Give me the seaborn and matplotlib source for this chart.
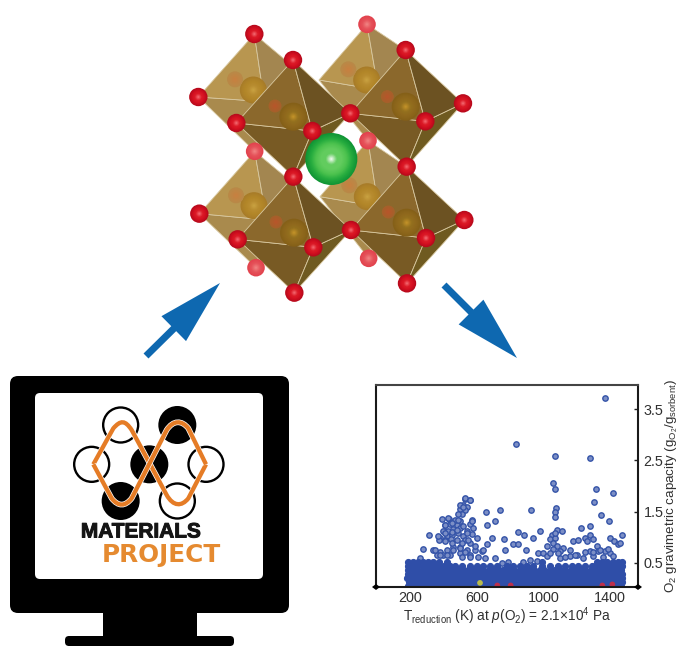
import matplotlib
matplotlib.use("Agg")
import matplotlib.pyplot as plt
from matplotlib.patches import Circle, Polygon, FancyArrow, FancyBboxPatch, PathPatch, Rectangle
from matplotlib.path import Path
import matplotlib.patheffects as pe
import pandas as pd
import seaborn as sns

# ---------- scatter data ----------
outlier_x = [1370, 834, 1068, 1278, 1058, 1068, 1314, 1416, 1306, 1078, 1068, 1072, 1344, 1394, 740, 926, 654, 710, 662, 1228, 1278]
outlier_y = [3.71, 2.82, 2.58, 2.55, 2.05, 1.95, 1.94, 1.86, 1.69, 1.57, 1.49, 1.40, 1.44, 1.32, 1.54, 1.53, 1.50, 1.32, 1.24, 1.18, 1.22]

left_cloud_x = [530, 560, 520, 540, 500, 530, 510, 390, 436, 470, 500, 570, 560, 410, 440, 480, 400, 430, 460, 500, 540, 570, 316, 380, 420, 450, 490, 520, 600, 372, 410, 444, 484, 530, 560, 690, 660, 762, 818, 850, 886, 982, 936, 850, 770, 894, 276, 336, 380, 420, 460, 500, 540, 500, 590, 630, 360, 400, 440, 510, 560, 260, 650, 710, 750, 790, 880, 970, 996, 920, 960,
                430, 410, 450, 490, 520, 410, 450, 480, 540, 370, 410, 450, 500, 530, 550, 590, 350, 380, 420, 460, 510, 560, 610, 640, 500, 530, 560, 520, 490, 570, 580]
left_cloud_y = [1.75, 1.72, 1.62, 1.59, 1.56, 1.53, 1.46, 1.35, 1.36, 1.34, 1.31, 1.33, 1.25, 1.23, 1.26, 1.23, 1.13, 1.13, 1.16, 1.18, 1.13, 1.06, 1.04, 0.99, 1.02, 1.05, 1.09, 1.02, 0.99, 0.94, 0.94, 0.97, 0.94, 0.94, 0.88, 0.99, 0.86, 0.96, 0.87, 1.10, 1.05, 1.12, 0.98, 0.87, 0.75, 0.75, 0.78, 0.76, 0.71, 0.75, 0.81, 0.81, 0.75, 0.70, 0.76, 0.73, 0.65, 0.65, 0.65, 0.62, 0.65, 0.60, 0.59, 0.59, 0.50, 0.52, 0.52, 0.70, 0.69, 0.55, 0.54,
                1.37, 1.24, 1.27, 1.34, 1.22, 1.08, 1.11, 1.14, 1.08, 1.02, 0.92, 0.88, 0.79, 0.72, 0.95, 0.82, 0.75, 0.66, 0.66, 0.75, 0.88, 0.62, 0.62, 0.75, 1.63, 1.76, 1.73, 1.60, 1.46, 1.31, 1.18]

right_cloud_x = [1050, 1080, 1110, 1040, 1070, 1060, 1020, 1080, 1120, 1100, 1160, 1180, 1210, 1250, 1280, 1300, 1260, 1320, 1280, 1330, 1370, 1300, 1400, 1420, 1400, 1424, 1450, 1470, 1460, 1160, 1200, 1240, 1100, 1020,
                 1060, 1090, 1130, 1040, 1340, 1360, 1385, 1300, 1250, 1190, 1070]
right_cloud_y = [1.05, 1.15, 1.12, 0.96, 0.99, 0.89, 0.83, 0.83, 0.80, 0.73, 0.76, 0.92, 0.95, 0.99, 1.05, 0.96, 0.92, 0.83, 0.73, 0.73, 0.73, 0.63, 0.69, 0.63, 0.99, 0.92, 0.86, 1.04, 0.88, 0.63, 0.66, 0.59, 0.59, 0.63,
                 0.78, 0.70, 0.62, 0.70, 0.75, 0.62, 0.78, 0.72, 0.72, 0.66, 1.08]

band_row_05 = [186, 214, 243, 275, 304, 336, 367, 396, 429, 456, 488, 519, 548, 578, 610, 641, 671, 701, 732, 762, 793, 824, 855, 885, 916, 946, 977, 1007, 1038, 1069, 1100, 1130, 1161, 1191, 1222, 1252, 1283, 1313, 1344, 1374, 1405, 1435, 1466]
band_row_13 = [192, 226, 254, 288, 318, 350, 381, 410, 442, 472, 503, 534, 563, 594, 625, 656, 686, 717, 748, 778, 809, 840, 870, 901, 932, 962, 992, 1023, 1054, 1084, 1115, 1146, 1176, 1207, 1237, 1268, 1298, 1329, 1359, 1390, 1420, 1450, 1474]
band_row_21 = [184, 212, 246, 272, 306, 334, 369, 394, 431, 458, 486, 521, 546, 580, 608, 643, 669, 703, 730, 764, 791, 826, 853, 887, 914, 948, 975, 1009, 1036, 1071, 1098, 1132, 1159, 1193, 1220, 1254, 1281, 1315, 1342, 1376, 1403, 1437, 1470]
band_row_29 = [190, 224, 256, 286, 320, 348, 383, 408, 444, 470, 505, 532, 565, 592, 627, 654, 688, 715, 750, 776, 811, 838, 872, 899, 934, 960, 994, 1021, 1056, 1082, 1117, 1144, 1178, 1205, 1239, 1266, 1300, 1327, 1361, 1388, 1422, 1448, 1472]
band_row_37 = [186, 216, 242, 278, 302, 338, 365, 398, 427, 460, 487, 517, 550, 576, 612, 639, 673, 699, 734, 760, 795, 822, 857, 883, 918, 944, 979, 1005, 1040, 1067, 1102, 1128, 1163, 1189, 1224, 1250, 1285, 1311, 1346, 1372, 1407, 1433, 1468]
band_row_45 = [188, 220, 250, 282, 312, 344, 374, 404, 438, 470, 510, 560, 600, 640, 680, 720, 780, 820, 860, 900, 940, 990, 1040, 1090, 1130, 1170, 1210, 1250, 1290, 1318, 1350, 1380, 1412, 1442, 1474]
band_row_52 = [190, 218, 248, 280, 310, 340, 372, 420, 990, 1320, 1352, 1384, 1416, 1446, 1470]

special_x = [620, 724, 804, 1354, 1414]
special_y = [0.11, 0.06, 0.06, 0.06, 0.08]
special_kind = ["yellow", "red", "red", "red", "red"]

x_tick_labels = [200, 600, 1000, 1400]
y_tick_labels = [0.5, 1.5, 2.5, 3.5]

# ---------- illustration geometry (crop coordinates) ----------
atoms_back = [(591, 73), (254, 454), (594, 422), (258, 803), (596, 775)]
atoms_front = [(253, 102), (369, 180), (85, 291), (199, 369), (427, 393), (541, 340), (707, 150), (879, 310),
               (766, 364), (710, 500), (370, 530), (88, 641), (203, 718), (430, 742), (543, 690), (883, 660),
               (768, 714), (711, 850), (373, 878)]
octa_back = [
    ((253, 102), (85, 291), (283, 305), (370, 200), (254, 454)),
    ((591, 73), (447, 240), (625, 270), (707, 150), (594, 422)),
    ((254, 454), (88, 641), (290, 660), (370, 550), (258, 803)),
    ((594, 422), (450, 590), (625, 620), (710, 500), (596, 775)),
]
octa_front = [
    ((369, 180), (199, 369), (427, 393), (541, 340), (370, 530)),
    ((707, 150), (541, 340), (766, 364), (879, 310), (710, 500)),
    ((370, 530), (203, 718), (430, 742), (543, 690), (373, 878)),
    ((711, 500), (543, 690), (768, 714), (883, 660), (711, 850)),
]
gold_back = [(250, 270), (590, 240), (252, 617), (592, 590)]
gold_front = [(370, 350), (707, 320), (372, 698), (710, 668)]
small_back = [(195, 238), (535, 208), (198, 586), (538, 556)]
small_front = [(315, 318), (652, 290), (318, 666), (655, 636)]

logo_open = [(362, 165), (275, 283), (618, 283), (532, 393)]
logo_filled = [(532, 165), (448, 283), (362, 393)]

# ---------- figure ----------
sns.set_theme(style="white")
plt.rcParams["font.family"] = ["Liberation Sans", "DejaVu Sans"]
plt.rcParams["mathtext.fontset"] = "custom"
plt.rcParams["mathtext.rm"] = "Liberation Sans"
plt.rcParams["mathtext.it"] = "Liberation Sans:italic"
plt.rcParams["mathtext.bf"] = "Liberation Sans:bold"

W, H = 682, 646
fig = plt.figure(figsize=(W / 100, H / 100), dpi=100, facecolor="white")

bg = fig.add_axes([0, 0, 1, 1])
bg.set_xlim(0, W)
bg.set_ylim(H, 0)
bg.axis("off")


def cr(p):
    return (170 + p[0] / 3, p[1] / 3)


def mon(p):
    return (p[0] / 3, 370 + p[1] / 3)


def ball(center, r, stops, z, steps=14):
    shades = sns.blend_palette(stops, steps)
    for i, col in enumerate(shades):
        bg.add_patch(Circle(center, r * (1 - i / steps), fc=col, ec="none", zorder=z))


def octa(o, cols, z):
    top, left, front, right, bottom = [cr(p) for p in o]
    for tri, col in zip([(left, front, bottom), (front, right, bottom), (top, left, front), (top, front, right)], cols):
        bg.add_patch(Polygon(tri, closed=True, fc=col, ec="#d8c8a0", lw=0.6, zorder=z))


for o in octa_back:
    octa(o, ["#a98a4d", "#a3854c", "#b89650", "#a38650"], 2)
for p in gold_back:
    ball(cr(p), 13.5, ["#a87c28", "#b28628", "#b88c30", "#c8a040"], 2.5)
for p in small_back:
    ball(cr(p), 8, ["#b98a48", "#c88040"], 2.5)
for o in octa_front:
    octa(o, ["#785a24", "#6f5a20", "#8b682c", "#6c5222"], 3)
for p in gold_front:
    ball(cr(p), 14, ["#856018", "#8f681c", "#94701e", "#c09028"], 3.5)
for p in small_front:
    ball(cr(p), 6.5, ["#a5622a", "#b8562a"], 3.5)

ball(cr((484, 477)), 26, ["#109535", "#25ab3e", "#4cc24e", "#62cc5e", "#62cc5e", "#e6f7e6"], 4, steps=24)

for p in atoms_back:
    ball(cr(p), 8.8, ["#e2434e", "#e6525a", "#f08080"], 5, steps=8)
for p in atoms_front:
    ball(cr(p), 9.2, ["#b80a1c", "#d40f20", "#dc1c28", "#f06068"], 6, steps=9)

# arrows
blue = "#0e68b0"
bg.add_patch(FancyArrow(146, 356, 74, -73, width=7, head_width=35, head_length=65,
                        length_includes_head=True, fc=blue, ec="none", zorder=2))
bg.add_patch(FancyArrow(444, 285, 73, 73, width=7, head_width=35, head_length=65,
                        length_includes_head=True, fc=blue, ec="none", zorder=2))

# monitor
bg.add_patch(Rectangle((103, 610), 94, 28, fc="black", ec="none", zorder=1))
bg.add_patch(FancyBboxPatch((65, 636), 169, 10, boxstyle="round,pad=0,rounding_size=4", fc="black", ec="none", zorder=1))
bg.add_patch(FancyBboxPatch((10, 376), 279, 237, boxstyle="round,pad=0,rounding_size=8", fc="black", ec="none", zorder=1))
bg.add_patch(FancyBboxPatch((35, 393), 228, 186, boxstyle="round,pad=0,rounding_size=5", fc="white", ec="none", zorder=1.1))

for p in logo_open:
    bg.add_patch(Circle(mon(p), 17.5, fc="white", ec="black", lw=1.7, zorder=1.2))
for p in logo_filled:
    bg.add_patch(Circle(mon(p), 19, fc="black", ec="none", zorder=1.2))

wave_a = [(280, 283), (340, 175), (362, 150), (375, 150), (395, 180), (500, 375), (520, 410), (545, 410), (565, 385), (618, 283)]
wave_b = [(280, 283), (335, 385), (355, 410), (375, 410), (395, 385), (500, 180), (520, 150), (545, 150), (565, 175), (618, 283)]
codes = [Path.MOVETO, Path.LINETO, Path.CURVE4, Path.CURVE4, Path.CURVE4, Path.LINETO,
         Path.CURVE4, Path.CURVE4, Path.CURVE4, Path.LINETO]
for w in (wave_a, wave_b):
    bg.add_patch(PathPatch(Path([mon(p) for p in w], codes), fc="none", ec="#e57c26", lw=3.1, zorder=1.3,
                           joinstyle="miter",
                           path_effects=[pe.withStroke(linewidth=4.1, foreground="white")]))

bg.text(141, 532, "MATERIALS", ha="center", va="center", fontsize=15, fontweight="bold",
        color="#151515", zorder=1.4,
        path_effects=[pe.withStroke(linewidth=0.7, foreground="#151515")])
bg.text(161, 555, "PROJECT", ha="center", va="center", fontsize=17.8, fontweight="bold",
        family="DejaVu Sans", color="#e58a30", zorder=1.4)

# ---------- scatter ----------
band_rows = [(band_row_05, 0.05), (band_row_13, 0.13), (band_row_21, 0.21), (band_row_29, 0.29),
             (band_row_37, 0.37), (band_row_45, 0.44), (band_row_52, 0.52)]
band_x = []
band_y = []
for row, level in band_rows:
    band_x = band_x + row
    band_y = band_y + [level] * len(row)
cloud = pd.DataFrame({"T": outlier_x + left_cloud_x + right_cloud_x,
                      "cap": outlier_y + left_cloud_y + right_cloud_y})
band = pd.DataFrame({"T": band_x, "cap": band_y})
sp = pd.DataFrame({"T": special_x, "cap": special_y, "kind": special_kind})

L, R, T, B = 376, 638, 385, 587
ax = fig.add_axes([L / W, 1 - B / H, (R - L) / W, (B - T) / H], facecolor="white")
sns.scatterplot(data=cloud, x="T", y="cap", ax=ax, s=15, color="#7c8fc6", edgecolor="#3453a8",
                linewidth=1.0, legend=False, zorder=3)
sns.scatterplot(data=band, x="T", y="cap", ax=ax, s=19, color="#2f4ea8", edgecolor="#2f4ea8",
                linewidth=0.8, legend=False, zorder=3.2)
sns.scatterplot(data=sp, x="T", y="cap", hue="kind", palette={"yellow": "#b9bb4a", "red": "#bd2f4c"},
                ax=ax, s=17, linewidth=0, legend=False, zorder=4)

ax.set_xlim(-4, 1568)
ax.set_ylim(0.03, 3.97)
ax.set_xticks(x_tick_labels)
ax.set_yticks(y_tick_labels)
ax.set_yticklabels([str(v) for v in y_tick_labels])
ax.yaxis.tick_right()
ax.tick_params(axis="x", length=0, pad=3, labelsize=10.4, labelcolor="#303030")
ax.tick_params(axis="y", right=True, direction="in", length=3, width=1, color="#222222", pad=4,
               labelsize=10.4, labelcolor="#303030")
for name, spine in ax.spines.items():
    spine.set_color("#1a1a1a" if name != "top" else "#444444")
    spine.set_linewidth(1.5)
ax.spines["bottom"].set_zorder(6)

corner = fig.add_axes([0, 0, 1, 1], facecolor="none")
corner.set_xlim(0, W)
corner.set_ylim(H, 0)
corner.axis("off")
for px in (L, R):
    corner.add_patch(Polygon([(px - 4, B), (px, B - 3), (px + 4, B), (px, B + 3)], closed=True, fc="black", ec="none"))

ax.set_xlabel(r"T$_{\mathrm{reduction}}$ (K) at $\mathit{p}$(O$_2$) = 2.1×10$^4$ Pa", fontsize=9.8, color="#303030", labelpad=0)
ax.yaxis.set_label_position("right")
ax.set_ylabel(r"O$_2$ gravimetric capacity (g$_{\mathrm{O_2}}$/g$_{\mathrm{sorbent}}$)", fontsize=9.6,
              color="#303030", rotation=90, va="center", ha="center")
ax.yaxis.set_label_coords((672 - L) / (R - L), 0.5)

fig.savefig("out.png", dpi=100, facecolor="white")
